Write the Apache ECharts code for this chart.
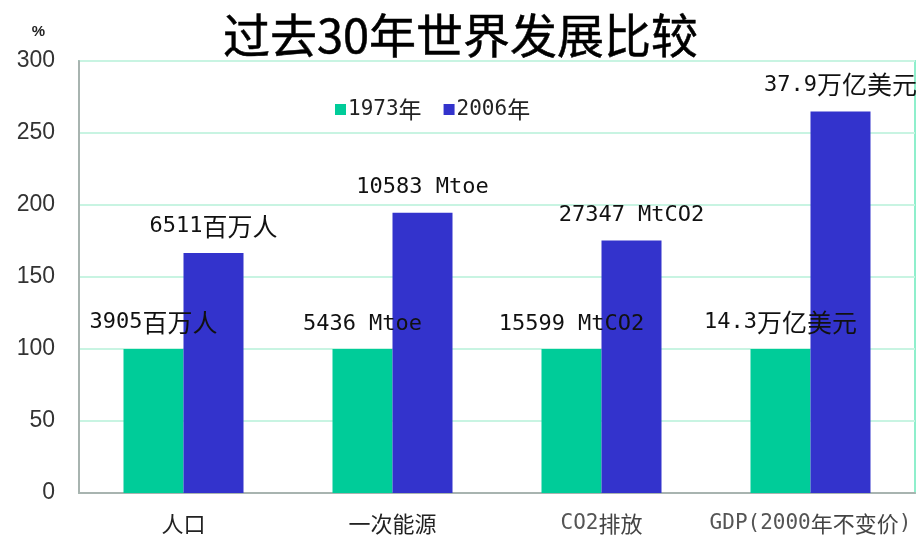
<!DOCTYPE html>
<html>
<head>
<meta charset="utf-8">
<script src="https://cdn.jsdelivr.net/npm/echarts@6/dist/echarts.min.js"></script>
<style>
  html, body { margin: 0; padding: 0; background: #fff; }
  #chart { width: 921px; height: 542px; }
</style>
</head>
<body>
<div id="chart"></div>
<script>
// Indicators compared (index, 1973 = 100)
const categories = ['人口', '一次能源', 'CO2排放', 'GDP(2000年不变价)'];
const seriesNames = ['1973年', '2006年'];
const values1973 = [100, 100, 100, 100];
const values2006 = [166.7, 194.7, 175.3, 265.0];
const labels1973 = ['3905百万人', '5436 Mtoe', '15599 MtCO2', '14.3万亿美元'];
const labels2006 = ['6511百万人', '10583 Mtoe', '27347 MtCO2', '37.9万亿美元'];
const yTicks = [0, 50, 100, 150, 200, 250, 300];

const mono = "'DejaVu Sans Mono', 'Noto Sans CJK SC', monospace";
const cjk = "'Noto Sans CJK SC', 'DejaVu Sans', sans-serif";

// wrap runs of CJK characters so they can get their own rich style
function tagCjk(s, tag) {
  return s.replace(/([\u3000-\u9fff]+)/g, '{' + tag + '|$1}');
}

const chart = echarts.init(document.getElementById('chart'));

function barLabel(texts) {
  return {
    show: true,
    position: 'top',
    distance: 14,
    color: '#111',
    fontSize: 22,
    fontFamily: mono,
    formatter: p => tagCjk(texts[p.dataIndex], 'c'),
    rich: { c: { fontSize: 25, fontFamily: cjk, color: '#111' } }
  };
}

chart.setOption({
  animation: false,
  backgroundColor: '#fff',
  title: {
    text: '过去30年世界发展比较',
    left: 'center',
    top: 7,
    textStyle: { fontSize: 47, fontWeight: 'normal', color: '#000', fontFamily: cjk,
      textBorderColor: '#000', textBorderWidth: 0.5 }
  },
  legend: {
    data: seriesNames,
    left: 330,
    top: 93,
    itemWidth: 11,
    itemHeight: 11,
    itemGap: 22,
    icon: 'rect',
    textStyle: {
      fontSize: 21, color: '#222', fontFamily: mono, padding: [0, 0, 0, -3],
      rich: { c: { fontSize: 23, fontFamily: cjk, color: '#222' } }
    },
    formatter: n => tagCjk(n, 'c')
  },
  grid: {
    left: 79, right: 6, top: 61, bottom: 49,
    show: true,
    borderColor: '#8fefcc',
    borderWidth: 2,
    backgroundColor: '#fff'
  },
  xAxis: {
    type: 'category',
    data: categories,
    axisLine: { show: true, lineStyle: { color: '#a8b4b0', width: 2 } },
    axisTick: { show: false },
    axisLabel: {
      margin: 20,
      fontSize: 22,
      color: '#222',
      fontFamily: cjk,
      interval: 0,
      formatter: (v, i) => i >= 2 ? '{g|' + v.replace(/([\u3000-\u9fff]+)/g, '}{gc|$1}{g|') + '}' : v,
      rich: {
        g: { fontSize: 21, color: '#555', fontFamily: mono },
        gc: { fontSize: 22, color: '#444', fontFamily: cjk }
      }
    }
  },
  yAxis: {
    type: 'value',
    min: yTicks[0],
    max: yTicks[yTicks.length - 1],
    interval: 50,
    name: '%',
    nameLocation: 'end',
    nameGap: 22,
    nameTextStyle: { fontSize: 15, fontWeight: 'bold', color: '#222', align: 'right', padding: [0, 34, 0, 0] },
    axisLine: { show: true, lineStyle: { color: '#a8b4b0', width: 2 } },
    axisTick: { show: false },
    axisLabel: { fontSize: 23, color: '#333', margin: 24, fontFamily: "'Liberation Sans', Arial, sans-serif" },
    splitLine: { show: true, lineStyle: { color: '#c8f4e2', width: 2 } }
  },
  series: [
    {
      name: seriesNames[0],
      type: 'bar',
      data: values1973,
      barWidth: 60,
      barGap: '0%',
      itemStyle: { color: '#00cc99' },
      label: barLabel(labels1973)
    },
    {
      name: seriesNames[1],
      type: 'bar',
      data: values2006,
      barWidth: 60,
      itemStyle: { color: '#3333cc' },
      label: barLabel(labels2006)
    }
  ]
});
</script>
</body>
</html>
